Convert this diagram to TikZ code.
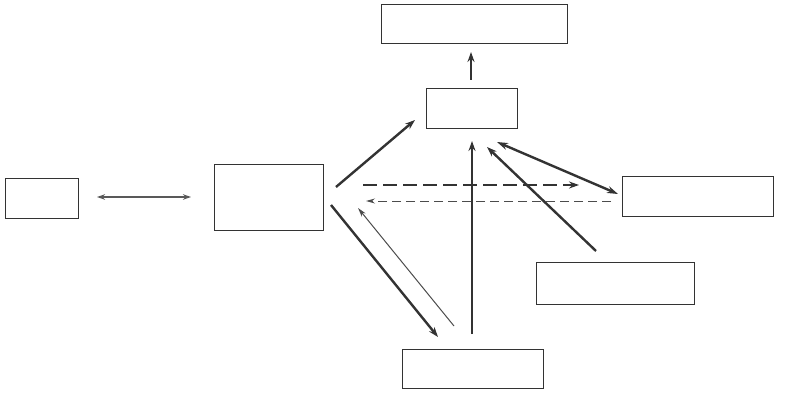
\documentclass[tikz,border=0pt]{standalone}
\usetikzlibrary{arrows.meta}
\begin{document}
\begin{tikzpicture}[x=1pt,y=-1pt,
  box/.style={draw=black!80,line width=1.3pt,inner sep=0pt,anchor=north west},
  thick arr/.style={draw=black!80,line width=2.4pt,-{Stealth[length=10pt,width=7pt]}},
  thin arr/.style={draw=black!70,line width=1pt,-{Stealth[length=9pt,width=5pt]}},
  dblthin/.style={draw=black!65,line width=1.3pt,{Stealth[length=8pt,width=5.5pt]}-{Stealth[length=8pt,width=5.5pt]}},
  dblthick/.style={draw=black!80,line width=2.4pt,{Stealth[length=11pt,width=7pt]}-{Stealth[length=11pt,width=7pt]}}]
\useasboundingbox (0,0) rectangle (797,393);
% boxes
\node[box,minimum width=73pt,minimum height=40pt] (A) at (5,178) {};
\node[box,minimum width=109pt,minimum height=66pt] (B) at (214,164) {};
\node[box,minimum width=186pt,minimum height=39pt] (T) at (381,4) {};
\node[box,minimum width=91pt,minimum height=40pt] (C) at (426,88) {};
\node[box,minimum width=151pt,minimum height=40pt] (D) at (622,176) {};
\node[box,minimum width=158pt,minimum height=42pt] (E) at (536,262) {};
\node[box,minimum width=141pt,minimum height=39pt] (F) at (402,349) {};
% connector end points
\coordinate (ab1) at (97,197);
\coordinate (ab2) at (191,197);
\coordinate (ct1) at (471,80);
\coordinate (ct2) at (471,52);
\coordinate (bc1) at (336,187);
\coordinate (bc2) at (415,120);
\coordinate (bd1) at (363,185);
\coordinate (bd2) at (579,185);
\coordinate (db1) at (611,201);
\coordinate (db2) at (366,201);
\coordinate (cd1) at (497,142);
\coordinate (cd2) at (618,194);
\coordinate (ec1) at (596,251);
\coordinate (ec2) at (487,147);
\coordinate (fc1) at (472,334);
\coordinate (fc2) at (472,141);
\coordinate (bf1) at (331,205);
\coordinate (bf2) at (438,337);
\coordinate (fb1) at (454,326);
\coordinate (fb2) at (358,208);
% connectors
\draw[dblthin] (ab1) -- (ab2);
\draw[thick arr] (ct1) -- (ct2);
\draw[thick arr] (bc1) -- (bc2);
\draw[thick arr,dash pattern=on 14pt off 6pt] (bd1) -- (bd2);
\draw[thin arr,dash pattern=on 9pt off 5pt] (db1) -- (db2);
\draw[dblthick] (cd1) -- (cd2);
\draw[thick arr] (ec1) -- (ec2);
\draw[thick arr] (fc1) -- (fc2);
\draw[thick arr] (bf1) -- (bf2);
\draw[thin arr] (fb1) -- (fb2);
\end{tikzpicture}
\end{document}
